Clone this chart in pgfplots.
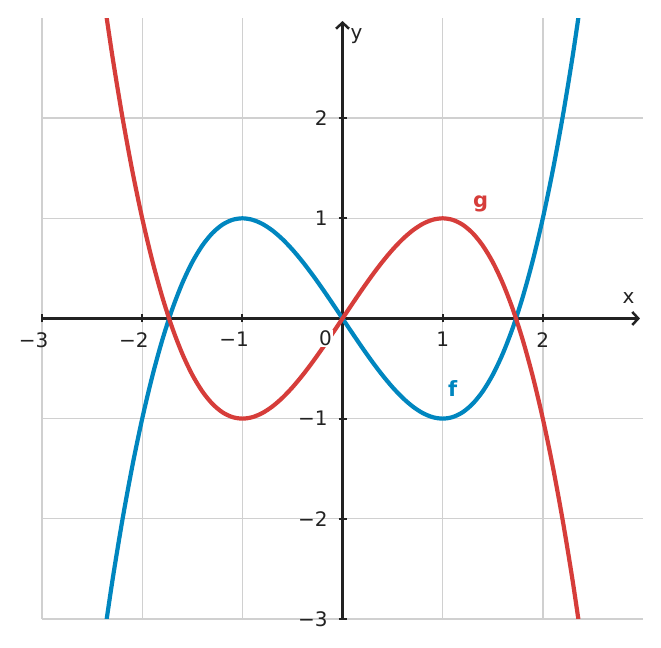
\documentclass[border=0pt]{standalone}
\usepackage{pgfplots}
\pgfplotsset{compat=1.18}
\usepackage{pgfplotstable}
\usetikzlibrary{arrows.meta}
\usepackage{fontspec}
\setmainfont{DejaVu Sans}
\definecolor{fblue}{HTML}{0086BF}
\definecolor{gred}{HTML}{D63D3A}
\definecolor{axc}{HTML}{222222}
\definecolor{gridc}{HTML}{D0D0D0}

% f and g sampled along x
\pgfplotstableread{
x     f        g
-2.4  -3.312   3.312
-2.3  -2.6335  2.6335
-2.2  -2.024   2.024
-2.1  -1.4805  1.4805
-2.0  -1.0     1.0
-1.9  -0.5795  0.5795
-1.8  -0.216   0.216
-1.7   0.0935 -0.0935
-1.6   0.352  -0.352
-1.5   0.5625 -0.5625
-1.4   0.728  -0.728
-1.3   0.8515 -0.8515
-1.2   0.936  -0.936
-1.1   0.9845 -0.9845
-1.0   1.0    -1.0
-0.9   0.9855 -0.9855
-0.8   0.944  -0.944
-0.7   0.8785 -0.8785
-0.6   0.792  -0.792
-0.5   0.6875 -0.6875
-0.4   0.568  -0.568
-0.3   0.4365 -0.4365
-0.2   0.296  -0.296
-0.1   0.1495 -0.1495
 0.0   0.0     0.0
 0.1  -0.1495  0.1495
 0.2  -0.296   0.296
 0.3  -0.4365  0.4365
 0.4  -0.568   0.568
 0.5  -0.6875  0.6875
 0.6  -0.792   0.792
 0.7  -0.8785  0.8785
 0.8  -0.944   0.944
 0.9  -0.9855  0.9855
 1.0  -1.0     1.0
 1.1  -0.9845  0.9845
 1.2  -0.936   0.936
 1.3  -0.8515  0.8515
 1.4  -0.728   0.728
 1.5  -0.5625  0.5625
 1.6  -0.352   0.352
 1.7  -0.0935  0.0935
 1.8   0.216  -0.216
 1.9   0.5795 -0.5795
 2.0   1.0    -1.0
 2.1   1.4805 -1.4805
 2.2   2.024  -2.024
 2.3   2.6335 -2.6335
 2.4   3.312  -3.312
}\curves

\begin{document}
\fontsize{20}{24}\selectfont
\begin{tikzpicture}
\begin{axis}[
    scale only axis,
    width=601pt, height=601pt,
    xmin=-3, xmax=3, ymin=-3, ymax=3,
    axis lines=middle,
    axis line style={axc, line width=2.5pt, -{Straight Barb[length=6pt,width=13pt,line width=2.5pt]}, shorten >=3pt},
    grid=major,
    grid style={gridc, line width=1.4pt},
    xtick={-3,...,2}, ytick={-3,...,2},
    xticklabels={\llap{−}3,\llap{−}2,\llap{−}1,,1,2},
    yticklabels={−3,−2,−1,,1,2},
    tick style={axc, line width=1.8pt},
    major tick length=8pt,
    tick align=center,
    tick label style={font=\fontsize{20}{24}\selectfont, text=axc},
    xticklabel style={yshift=-3pt},
    yticklabel style={xshift=-4pt},
]
\addplot[fblue, line width=4.2pt, smooth] table[x=x, y=f] {\curves};
\addplot[gred, line width=4.2pt, smooth] table[x=x, y=g] {\curves};
\node[fblue, font=\fontsize{21}{24}\selectfont\bfseries] at (axis cs:1.1,-0.7) {f};
\node[gred, font=\fontsize{21}{24}\selectfont\bfseries] at (axis cs:1.38,1.14) {g};
\node[text=axc] at (axis cs:2.855,0.2) {x};
\node[text=axc] at (axis cs:0.14,2.82) {y};
\node[text=axc, fill=white, inner sep=1pt] at (axis cs:-0.17,-0.2) {0};
\coordinate (bl) at (axis cs:-3.42,-3.29);
\coordinate (tr) at (axis cs:3.18,3.18);
\end{axis}
\pgfresetboundingbox
\useasboundingbox (bl) rectangle (tr);
\end{tikzpicture}
\end{document}
